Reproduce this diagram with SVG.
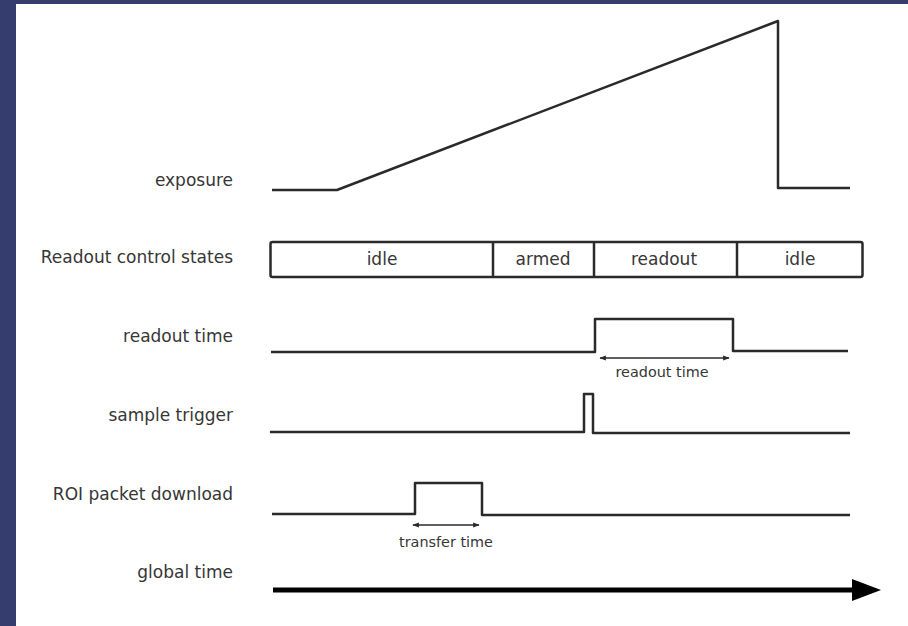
<svg xmlns="http://www.w3.org/2000/svg" width="908" height="626" viewBox="0 0 908 626">
<defs>
<style>
.lbl{font-family:"DejaVu Sans",Verdana,sans-serif;font-size:17px;fill:#363636;text-anchor:end}
.st{font-family:"DejaVu Sans",Verdana,sans-serif;font-size:17px;fill:#363636;text-anchor:middle}
.sm{font-family:"DejaVu Sans",Verdana,sans-serif;font-size:14.4px;fill:#363636;text-anchor:middle}
.sig{fill:none;stroke:#2a2a2a;stroke-width:2.5;stroke-linejoin:round}
.dim{fill:none;stroke:#2a2a2a;stroke-width:1.3}
</style>
<marker id="ah" viewBox="0 0 10 10" refX="9" refY="5" markerWidth="5" markerHeight="5" orient="auto-start-reverse">
<path d="M0,1 L10,5 L0,9 z" fill="#2a2a2a"/>
</marker>
</defs>
<rect x="0" y="0" width="908" height="626" fill="#343d6e"/>
<rect x="16" y="4" width="892" height="622" fill="#ffffff"/>

<g id="exposure">
<text class="lbl" x="233" y="186">exposure</text>
<polyline class="sig" points="272,190 337,190 778,21 778,188 850,188"/>
</g>

<g id="states">
<text class="lbl" x="233" y="263">Readout control states</text>
<rect x="270.5" y="242" width="592" height="35" rx="2" fill="none" stroke="#2a2a2a" stroke-width="2.5"/>
<line x1="493" y1="242" x2="493" y2="277" stroke="#2a2a2a" stroke-width="2.5"/>
<line x1="594" y1="242" x2="594" y2="277" stroke="#2a2a2a" stroke-width="2.5"/>
<line x1="737" y1="242" x2="737" y2="277" stroke="#2a2a2a" stroke-width="2.5"/>
<text class="st" x="382" y="265">idle</text>
<text class="st" x="543" y="265">armed</text>
<text class="st" x="664" y="265">readout</text>
<text class="st" x="800" y="265">idle</text>
</g>

<g id="readout-time">
<text class="lbl" x="233" y="342">readout time</text>
<polyline class="sig" points="271,352 595,352 595,319 733,319 733,351 848,351"/>
<text class="sm" x="662" y="377">readout time</text>
</g>

<g id="sample-trigger">
<text class="lbl" x="233" y="421">sample trigger</text>
<polyline class="sig" points="270,432 584,432 584,394 593,394 593,433 850,433"/>
</g>

<g id="roi-download">
<text class="lbl" x="233" y="500">ROI packet download</text>
<polyline class="sig" points="272,514 415,514 415,483 482,483 482,515 850,515"/>
<text class="sm" x="446" y="547">transfer time</text>
</g>

<g id="global-time">
<text class="lbl" x="233" y="578">global time</text>
<line x1="273" y1="590" x2="854" y2="590" stroke="#000" stroke-width="5"/>
<polygon points="852,579 881,590 852,601" fill="#000"/>
</g>

<g id="connectors">
<line class="dim" x1="600" y1="358" x2="729" y2="358" marker-start="url(#ah)" marker-end="url(#ah)"/>
<line class="dim" x1="413" y1="525" x2="479" y2="525" marker-start="url(#ah)" marker-end="url(#ah)"/>
</g>
</svg>
